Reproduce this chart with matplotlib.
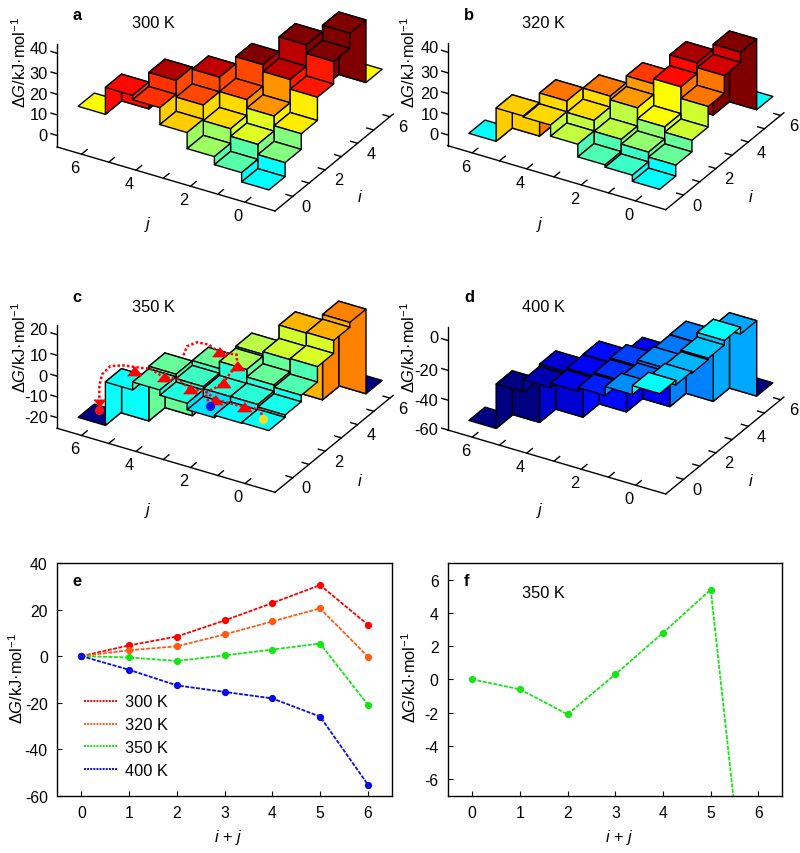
import matplotlib
matplotlib.use("Agg")
import matplotlib.pyplot as plt
from matplotlib.colors import LinearSegmentedColormap, Normalize
from matplotlib.lines import Line2D
from mpl_toolkits.mplot3d import proj3d
from mpl_toolkits.mplot3d.art3d import Poly3DCollection

plt.rcParams['font.family'] = ['Liberation Sans', 'DejaVu Sans']
plt.rcParams['mathtext.fontset'] = 'custom'
plt.rcParams['mathtext.rm'] = 'Liberation Sans'
plt.rcParams['mathtext.it'] = 'Liberation Sans:italic'
plt.rcParams['mathtext.bf'] = 'Liberation Sans:bold'
plt.rcParams['axes.unicode_minus'] = False

# free energy surfaces, rows are i = 0..6, columns j = 0..6-i
G300 = [[0, 4.5, 8.4, 16.2, 24.4, 26.5, 13.4],
        [6.8, 11.8, 15.5, 23.1, 31.2, 13.5],
        [14.4, 19.1, 23.2, 30.2, 13.5],
        [25.7, 30.4, 33.7, 13.5],
        [36.6, 40.8, 13.5],
        [43.9, 13.5],
        [13.5]]
G320 = [[0, 3, 4.1, 10.2, 15.6, 16.1, 0],
        [5.3, 7.7, 10, 15.3, 20.8, 0],
        [10.9, 13.5, 18.8, 20.6, 0],
        [20.8, 26.4, 24, 0],
        [29.3, 31.6, 0],
        [34.2, 0],
        [0]]
G350 = [[0, -0.3, -1.5, 1.6, 4.1, 0.3, -20.6],
        [1.1, 2.3, 2.2, 3.2, 5.3, -21],
        [4.2, 5.3, 8.9, 5.5, -21],
        [11.6, 11.1, 9.8, -21],
        [17.8, 17.5, -21],
        [20.1, -21],
        [-20.6]]
G400 = [[0, -6, -12, -14.4, -17.5, -25.8, -55.5],
        [-3, -8, -11, -13.3, -16, -55],
        [-4, -6, -10, -13, -55],
        [-3, -7, -14, -55],
        [0, -6.7, -55],
        [-4.5, -55],
        [-55]]

# free energy against i + j
n_total = [0, 1, 2, 3, 4, 5, 6]
dG_300 = [0, 4.6, 8.4, 15.3, 22.8, 30.5, 13.5]
dG_320 = [0, 2.5, 4.2, 9.3, 14.9, 20.5, -0.2]
dG_350 = [0, -0.6, -2.1, 0.3, 2.8, 5.4, -20.9]
dG_400 = [0, -5.9, -12.6, -15.4, -18.2, -26, -55.2]

# pathways over the 350 K surface, (j, i, z)
path_main = [(0, 0, 0), (0.4, 0.51, 0), (0.94, 0.39, 0), (1.94, 0.33, 0), (2.49, 0.63, 0),
             (2.95, 0.48, 0), (3.64, 0.87, 0), (4.07, 0.73, 0), (4.71, 0.98, 0),
             (5.01, 0.87, 0), (5.54, 0.73, 0), (5.88, 0.48, 0), (5.83, -0.12, 0),
             (6, 0, -7), (6, 0, -15), (6, 0, -18.5)]
path_side = [(1.95, 0, -1), (2.43, 0.54, 0), (2.33, 0.98, 0), (2.27, 1.39, 0), (2.41, 2.05, 0),
             (2.45, 2.53, 0), (2.84, 3.17, 0), (3.41, 3.01, 0), (3.93, 3.27, 0),
             (4.32, 3.21, 0), (4.46, 2.82, 0), (4.24, 2.21, 0)]
arrow_heads = [(0.94, 0.39, 0), (1.94, 0.33, 0), (2.95, 0.48, 0), (4.07, 0.73, 0), (5.08, 0.58, 0),
               (2.27, 1.39, 0), (2.45, 2.53, 0), (3.41, 3.01, 0)]

W, H = 800, 854
FS = 11.8
TICK_3D = 11.8
TICK_2D = 11.3
# matlab style jet
jet_m = LinearSegmentedColormap.from_list('jet_m', [(0, (0, 0, 0.5)), (1 / 8, (0, 0, 1)), (3 / 8, (0, 1, 1)),
                                                    (5 / 8, (1, 1, 0)), (7 / 8, (1, 0, 0)), (1, (0.5, 0, 0))])
norm = Normalize(-20.25, 33.75)
jlim = (6.9, -1.1)
ilim = (-1.1, 6.2)
flat_up = [(-1, -0.6), (1, -0.6), (0, 0.7)]
flat_down = [(-1, 0.6), (1, 0.6), (0, -0.7)]

fig = plt.figure(figsize=(W / 100, H / 100), dpi=100)


def ftext(x, y, s, **kw):
    kw.setdefault('fontsize', FS)
    kw.setdefault('ha', 'center')
    kw.setdefault('va', 'center')
    fig.text(x / W, 1 - y / H, s, **kw)


def to_screen(ax, j, i, z):
    x, y, _ = proj3d.proj_transform(j, i, z, ax.get_proj())
    return ax.transData.transform((x, y))


def text3d(ax, j, i, z, s, ha='center'):
    # tick labels go on the figure, at the projected spot
    px, py = to_screen(ax, j, i, z)
    fig.text(px / W, py / H, s, fontsize=TICK_3D, ha=ha, va='center')


def place_axes(ax, ox, oy):
    # move and scale the 3d box until its front corner and j axis sit on the target
    s = 500.0
    cx, cy = ox, H - oy
    zlo = ax.get_zlim()[0]
    for _ in range(4):
        ax.set_position([(cx - s / 2) / W, (cy - s / 2) / H, s / W, s / H])
        ax.apply_aspect()
        p0 = to_screen(ax, jlim[1], ilim[0], zlo)
        p1 = to_screen(ax, jlim[0], ilim[0], zlo)
        s *= 218.0 / abs(p0[0] - p1[0])
        ax.set_position([(cx - s / 2) / W, (cy - s / 2) / H, s / W, s / H])
        ax.apply_aspect()
        p0 = to_screen(ax, jlim[1], ilim[0], zlo)
        cx += ox - p0[0]
        cy += (H - oy) - p0[1]
    ax.set_position([(cx - s / 2) / W, (cy - s / 2) / H, s / W, s / H])
    ax.apply_aspect()


def add_quad(ax, verts, color, order):
    q = Poly3DCollection([verts], facecolors=[color], edgecolors='k', linewidths=1.0, zorder=order)
    ax.add_collection3d(q, autolim=False)


def surface(ax, G, di, dj):
    # stepped surface, painted from the far corner to the near one
    # each wall takes the colour of the tile with the lower index
    k = 10
    for i in range(6, -1, -1):
        for j in range(len(G[i]) - 1, -1, -1):
            z = G[i][j]
            col = jet_m(norm(z))
            j0, j1 = j - 0.5 + dj, j + 0.5 + dj
            i0, i1 = i - 0.5 + di, i + 0.5 + di
            if i < 6 and j < len(G[i + 1]):
                zn = G[i + 1][j]
                add_quad(ax, [(j0, i1, z), (j1, i1, z), (j1, i1, zn), (j0, i1, zn)], col, k)
                k += 1
            if j + 1 < len(G[i]):
                zn = G[i][j + 1]
                add_quad(ax, [(j1, i0, z), (j1, i1, z), (j1, i1, zn), (j1, i0, zn)], col, k)
                k += 1
            add_quad(ax, [(j0, i0, z), (j1, i0, z), (j1, i1, z), (j0, i1, z)], col, k)
            k += 1
    return k


def panel3d(G, ox, oy, zlim, zticks, top_nudge, di, dj):
    ax = fig.add_axes([0, 0, 0.5, 0.5], projection='3d', proj_type='ortho', computed_zorder=False)
    ax.patch.set_visible(False)
    ax.set_axis_off()
    ax.set_box_aspect((254, 230, 118))
    ax.view_init(elev=29.4, azim=-59.1)
    ax.set_xlim(jlim[0], jlim[1], view_margin=0)
    ax.set_ylim(ilim[0], ilim[1], view_margin=0)
    ax.set_zlim(zlim[0], zlim[1], view_margin=0)
    place_axes(ax, ox, oy)
    surface(ax, G, di, dj)

    zlo = zlim[0]
    axis_kw = dict(color='k', lw=1.0, zorder=1)
    ax.plot([jlim[0], jlim[1]], [ilim[0], ilim[0]], [zlo, zlo], **axis_kw)
    ax.plot([jlim[1], jlim[1]], [ilim[0], ilim[1]], [zlo, zlo], **axis_kw)
    ax.plot([jlim[0], jlim[0]], [ilim[0], ilim[0]], [zlo, zlim[1]], **axis_kw)
    for t in range(7):
        ax.plot([t, t], [ilim[0], ilim[0] + 0.35], [zlo, zlo], **axis_kw)
        ax.plot([jlim[1], jlim[1] + 0.25], [t, t], [zlo, zlo], **axis_kw)
    for t in [0, 2, 4, 6]:
        text3d(ax, t - 0.26, ilim[0] - 0.85, zlo, str(t))
        text3d(ax, jlim[1] - 0.69, t - 0.34, zlo, str(t))
    for t in zticks:
        ax.plot([jlim[0], jlim[0] + 0.22], [ilim[0], ilim[0]], [t, t], **axis_kw)
        zt = t + top_nudge if t == zticks[-1] else t
        text3d(ax, jlim[0] + 0.25, ilim[0] - 0.15, zt, str(t), ha='right')
    return ax


dG_label = r'Δ$\mathit{G}$/kJ·mol$^{-1}$'

di_std, dj_std = -0.15, -0.09
ax_a = panel3d(G300, 275, 212, (-5.6, 44.4), [0, 10, 20, 30, 40], 2.4, di_std, dj_std)
ax_b = panel3d(G320, 665.7, 210.7, (-5.2, 44.5), [0, 10, 20, 30, 40], 2.4, di_std, dj_std)
ax_c = panel3d(G350, 275, 493.3, (-25.1, 24.4), [-20, -10, 0, 10, 20], 2.4, di_std, dj_std)
ax_d = panel3d(G400, 665.7, 495, (-60, 8.9), [-60, -40, -20, 0], 1.8, -0.08, -0.05)

# pathways on panel c
dot_kw = dict(color='r', lw=1.8, ls=(0, (1, 0.9)), zorder=2000)
for path in (path_main, path_side):
    ax_c.plot([p[0] + dj_std for p in path], [p[1] + di_std for p in path], [p[2] for p in path], **dot_kw)
for p in arrow_heads:
    ax_c.plot([p[0] + dj_std], [p[1] + di_std], [p[2]], ls='', marker=flat_up, ms=10, color='r', zorder=2100)
ax_c.plot([6 + dj_std], [di_std], [-15], ls='', marker=flat_down, ms=8, color='r', zorder=2100)
ax_c.plot([6 + dj_std], [di_std], [-18.5], ls='', marker='o', ms=5.5, color='#f01020', zorder=2100)
ax_c.plot([1.95 + dj_std], [di_std], [-1], ls='', marker='o', ms=5.5, color='#1010e8', zorder=2100)
ax_c.plot([dj_std], [di_std], [0], ls='', marker='o', ms=5.5, color='#f5e020', zorder=2100)

ftext(20, 62, dG_label, rotation=90)
ftext(409, 62, dG_label, rotation=90)
ftext(20, 347, dG_label, rotation=90)
ftext(409, 347, dG_label, rotation=90)
for x, y, s in [(148, 225, 'j'), (360, 198, 'i'), (540, 225, 'j'), (750.7, 198, 'i'),
                (148, 510, 'j'), (360, 481.7, 'i'), (540, 510, 'j'), (750.7, 481.7, 'i')]:
    ftext(x, y, s, style='italic')
for x, y, s in [(77, 15, 'a'), (469, 15, 'b'), (77, 298, 'c'), (469, 298, 'd'), (77, 582, 'e'), (467, 582, 'f')]:
    ftext(x, y, s, fontweight='bold')
for x, y, s in [(153, 24, '300 K'), (544, 24, '320 K'), (153, 308, '350 K'), (543, 308, '400 K'), (543, 593, '350 K')]:
    ftext(x, y, s)

# line panels
line_colors = ['#ff0000', '#ff5a14', '#14e614', '#0a0ae6']
line_sets = [dG_300, dG_320, dG_350, dG_400]
line_names = ['300 K', '320 K', '350 K', '400 K']
style = dict(ls=(0, (2.2, 0.8)), lw=1.3, marker='o', ms=4.2)


def frame2d(x0, y0, x1, y1):
    ax = fig.add_axes([x0 / W, 1 - y1 / H, (x1 - x0) / W, (y1 - y0) / H])
    ax.set_xlim(-0.5, 6.5)
    ax.set_xticks(n_total)
    ax.tick_params(direction='in', length=3.5, width=0.8, labelsize=TICK_2D, pad=7)
    for sp in ax.spines.values():
        sp.set_linewidth(1.0)
    return ax


ax_e = frame2d(57.5, 564, 391.7, 796.7)
ax_e.set_ylim(-60, 40)
ax_e.set_yticks([-60, -40, -20, 0, 20, 40])
for vals, col in zip(line_sets, line_colors):
    ax_e.plot(n_total, vals, color=col, **style)
handles = [Line2D([], [], color=c, ls=(0, (1, 0.6)), lw=1.4) for c in line_colors]
ax_e.legend(handles, line_names, loc='lower left', bbox_to_anchor=(0.068, 0.062), frameon=False,
            fontsize=FS, labelspacing=0.48, handlelength=2.1, handletextpad=0.45, borderaxespad=0, borderpad=0.2)

ax_f = frame2d(448.3, 564, 782.3, 796.7)
ax_f.set_ylim(-7, 7)
ax_f.set_yticks([-6, -4, -2, 0, 2, 4, 6])
ax_f.plot(n_total, dG_350, color=line_colors[2], **style)

ftext(17, 678, dG_label, rotation=90)
ftext(410, 677, dG_label, rotation=90)
ftext(228, 838, r'$\mathit{i}$ + $\mathit{j}$')
ftext(619, 838, r'$\mathit{i}$ + $\mathit{j}$')

fig.savefig('out.png', dpi=100)
